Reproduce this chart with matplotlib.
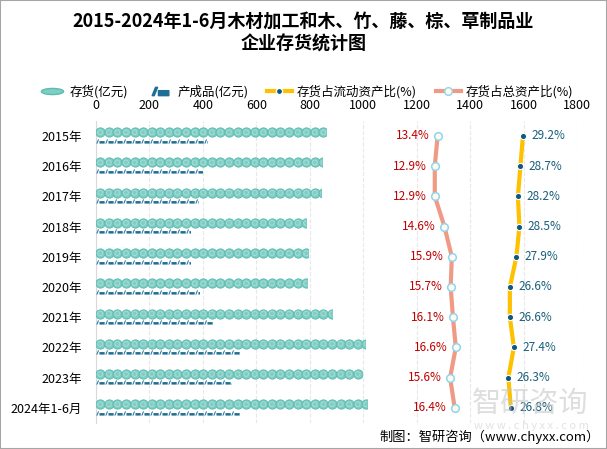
import matplotlib
matplotlib.use("Agg")
import matplotlib.pyplot as plt
import numpy as np
from matplotlib.path import Path
from matplotlib.patches import Rectangle
from matplotlib.lines import Line2D

plt.rcParams['font.family'] = ['Noto Sans CJK SC', 'DejaVu Sans']

years = ['2015年', '2016年', '2017年', '2018年', '2019年', '2020年',
         '2021年', '2022年', '2023年', '2024年1-6月']
inventory = [860, 845, 841, 785, 792, 789, 882, 1006, 994, 1013]
finished = [415, 396, 382, 351, 351, 385, 434, 535, 507, 535]
ratio_current = [29.2, 28.7, 28.2, 28.5, 27.9, 26.6, 26.6, 27.4, 26.3, 26.8]
ratio_total = [13.4, 12.9, 12.9, 14.6, 15.9, 15.7, 16.1, 16.6, 15.6, 16.4]
xticks = [0, 200, 400, 600, 800, 1000, 1200, 1400, 1600, 1800]

teal = '#80cdc4'
navy = '#1f6e93'
yellow = '#ffc000'
salmon = '#ef9a85'

# little "product" icon: slanted stroke + horizontal block
icon = Path(
    [(-1.0, -0.5), (-0.6, 0.5), (-0.35, 0.5), (-0.75, -0.5), (-1.0, -0.5),
     (-0.25, -0.5), (1.0, -0.5), (1.0, 0.1), (-0.25, 0.1), (-0.25, -0.5)],
    [Path.MOVETO, Path.LINETO, Path.LINETO, Path.LINETO, Path.CLOSEPOLY,
     Path.MOVETO, Path.LINETO, Path.LINETO, Path.LINETO, Path.CLOSEPOLY])
ellipse = Path(Path.unit_circle().vertices * [2.0, 0.55], Path.unit_circle().codes)

fig = plt.figure(figsize=(6.07, 4.49), dpi=100)
ax = fig.add_axes([0.158, 0.058, 0.793, 0.673])

n = len(years)
y = np.arange(n)

# ratio lines on their own hidden scales
ax2 = ax.twiny()
ax2.set_xlim(-46.8, 38.0)
ax3 = ax.twiny()
ax3.set_xlim(-55.7, 40.0)
for a in (ax2, ax3):
    a.set_xticks([])
    for s in a.spines.values():
        s.set_visible(False)

ax.set_ylim(n - 0.5, -0.5)
ax.set_xlim(0, 1800)

pitch_c = 32.1
pitch_i = 33.6
for i in range(n):
    clip = Rectangle((0, i - 0.45), inventory[i], 0.5, transform=ax.transData)
    k = int(np.ceil(inventory[i] / pitch_c))
    xs = pitch_c / 2 + pitch_c * np.arange(k)
    sc = ax.scatter(xs, np.full(k, i - 0.12), s=44, marker='o', color=teal,
                    edgecolor='#5cbcb1', linewidth=0.7, zorder=3)
    sc.set_clip_path(clip)
    sc2 = ax.scatter(xs, np.full(k, i - 0.12), s=12, marker='o', facecolor='none',
                     edgecolor='#a9dfd8', linewidth=0.6, zorder=4)
    sc2.set_clip_path(clip)

    clip2 = Rectangle((0, i), finished[i], 0.4, transform=ax.transData)
    k2 = int(np.ceil(finished[i] / pitch_i))
    xs2 = pitch_i / 2 + pitch_i * np.arange(k2)
    si = ax.scatter(xs2, np.full(k2, i + 0.16), s=36, marker=icon, color=navy,
                    linewidth=0, zorder=3)
    si.set_clip_path(clip2)

ax.set_yticks(y)
ax.set_yticklabels(years, fontsize=9)
ax.set_xticks(xticks)
ax.xaxis.set_ticks_position('top')
ax.tick_params(axis='x', length=0, labelsize=9, pad=6, labeltop=True,
               labelbottom=False)
ax.tick_params(axis='y', length=0, pad=10)
ax.grid(axis='x', color='#e8e8e8', linestyle='--', linewidth=0.8)
ax.set_axisbelow(True)
for s in ['top', 'right', 'bottom']:
    ax.spines[s].set_visible(False)
ax.spines['left'].set_color('#d9d9d9')

ax2.plot(ratio_total, y, color=salmon, linewidth=3, marker='o', markersize=5.5,
         markerfacecolor='#fffbea', markeredgecolor='#8fd4f2', markeredgewidth=1.1,
         zorder=5)
for v, yy in zip(ratio_total, y):
    ax2.annotate(f'{v}%', (v, yy), xytext=(-6, 0), textcoords='offset points',
                 ha='right', va='center', fontsize=8.5, color='#c00000')

ax3.plot(ratio_current, y, color=yellow, linewidth=3, marker='o', markersize=4.5,
         markerfacecolor='#0d5a80', markeredgecolor='white', markeredgewidth=0.8,
         zorder=5)
for v, yy in zip(ratio_current, y):
    ax3.annotate(f'{v}%', (v, yy), xytext=(6, 0), textcoords='offset points',
                 ha='left', va='center', fontsize=8.5, color='#1a5f7a')

fig.suptitle('2015-2024年1-6月木材加工和木、竹、藤、棕、草制品业\n企业存货统计图',
             x=0.5, y=0.975, fontsize=13, fontweight='bold', linespacing=1.3)

handles = [
    Line2D([], [], linestyle='none', marker=ellipse, markersize=16, color=teal,
           markeredgecolor='#5cbcb1'),
    Line2D([], [], linestyle='none', marker=icon, markersize=12, color=navy),
    Line2D([], [], color=yellow, linewidth=3, marker='o', markersize=4.5,
           markerfacecolor='#0d5a80', markeredgecolor='white'),
    Line2D([], [], color=salmon, linewidth=3, marker='o', markersize=5.5,
           markerfacecolor='#fffbea', markeredgecolor='#8fd4f2'),
]
labels = ['存货(亿元)', '产成品(亿元)', '存货占流动资产比(%)', '存货占总资产比(%)']
fig.legend(handles, labels, loc='center', bbox_to_anchor=(0.505, 0.795), ncol=4,
           frameon=False, fontsize=9, handlelength=2.0, handletextpad=0.4,
           columnspacing=1.5)

# watermark and source
fig.text(0.97, 0.1, '智研咨询', fontsize=21, color='#c4c4c4', alpha=0.55,
         ha='right', va='center')
fig.text(0.97, 0.052, 'w w w . c h y x x . c o m', fontsize=8, color='#cfcfcf',
         alpha=0.6, ha='right', va='center')
fig.text(0.625, 0.027, '制图：智研咨询（www.chyxx.com）', fontsize=9.5,
         ha='left', va='center')

fig.patches.append(Rectangle((0, 0), 1, 1, transform=fig.transFigure, fill=False,
                             edgecolor='#a6a6a6', linewidth=1.5))

fig.savefig('out.png', dpi=100)
